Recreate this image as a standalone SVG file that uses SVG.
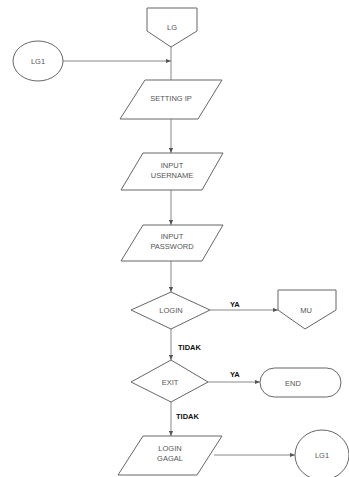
<svg xmlns="http://www.w3.org/2000/svg" width="349" height="477" viewBox="0 0 349 477">
<defs>
<marker id="ah" viewBox="0 0 6 6" refX="6" refY="3" markerWidth="5" markerHeight="5" orient="auto">
<path d="M0,0.5 L6,3 L0,5.5 z" fill="#555"/>
</marker>
<style>
.s{fill:#fff;stroke:#666;stroke-width:1}
.c{fill:none;stroke:#888;stroke-width:1}
.t{font-family:"Liberation Sans",Arial,sans-serif;font-size:7.5px;fill:#555;text-anchor:middle}
.l{font-family:"Liberation Sans",Arial,sans-serif;font-size:7.5px;font-weight:bold;fill:#111}
</style>
</defs>
<rect width="349" height="477" fill="#fff"/>
<g id="connectors">
<path class="c" d="M171,47 V80"/>
<path class="c" d="M63,61 H171" marker-end="url(#ah)"/>
<path class="c" d="M171,119 V153" marker-end="url(#ah)"/>
<path class="c" d="M171,190 V225" marker-end="url(#ah)"/>
<path class="c" d="M171,261 V292" marker-end="url(#ah)"/>
<path class="c" d="M210,310 H278" marker-end="url(#ah)"/>
<path class="c" d="M171,329 V360" marker-end="url(#ah)"/>
<path class="c" d="M208,382 H260" marker-end="url(#ah)"/>
<path class="c" d="M171,402 V436" marker-end="url(#ah)"/>
<path class="c" d="M214,455 H295" marker-end="url(#ah)"/>
<text class="l" x="230" y="307">YA</text>
<text class="l" x="178" y="350">TIDAK</text>
<text class="l" x="230" y="377">YA</text>
<text class="l" x="176" y="419">TIDAK</text>
</g>
<g id="lg">
<path class="s" d="M147,8 H197 V31 L171,47 L147,31 Z"/>
<text class="t" x="172" y="30">LG</text>
</g>
<g id="lg1-top">
<ellipse class="s" cx="38" cy="61" rx="25" ry="20"/>
<text class="t" x="38" y="64">LG1</text>
</g>
<g id="setting-ip">
<path class="s" d="M145,80 H222 L198,119 H120 Z"/>
<text class="t" x="171" y="101">SETTING IP</text>
</g>
<g id="input-username">
<path class="s" d="M143,153 H223 L202,190 H121 Z"/>
<text class="t" x="172" y="168">INPUT</text>
<text class="t" x="172" y="178">USERNAME</text>
</g>
<g id="input-password">
<path class="s" d="M143,225 H223 L202,261 H121 Z"/>
<text class="t" x="172" y="239">INPUT</text>
<text class="t" x="172" y="249">PASSWORD</text>
</g>
<g id="login">
<path class="s" d="M171,292 L210,310 L171,329 L131,310 Z"/>
<text class="t" x="171" y="313">LOGIN</text>
</g>
<g id="mu">
<path class="s" d="M278,290 H336 V310 L305,329 L278,310 Z"/>
<text class="t" x="306" y="313">MU</text>
</g>
<g id="exit">
<path class="s" d="M171,360 L208,382 L171,402 L131,382 Z"/>
<text class="t" x="170" y="385">EXIT</text>
</g>
<g id="end">
<rect class="s" x="260" y="368" width="81" height="29" rx="14.5"/>
<text class="t" x="293" y="386">END</text>
</g>
<g id="login-gagal">
<path class="s" d="M143,436 H222 L197,475 H118 Z"/>
<text class="t" x="170" y="451">LOGIN</text>
<text class="t" x="170" y="461">GAGAL</text>
</g>
<g id="lg1-bottom">
<ellipse class="s" cx="322" cy="455" rx="27" ry="25"/>
<text class="t" x="322" y="458">LG1</text>
</g>
</svg>
